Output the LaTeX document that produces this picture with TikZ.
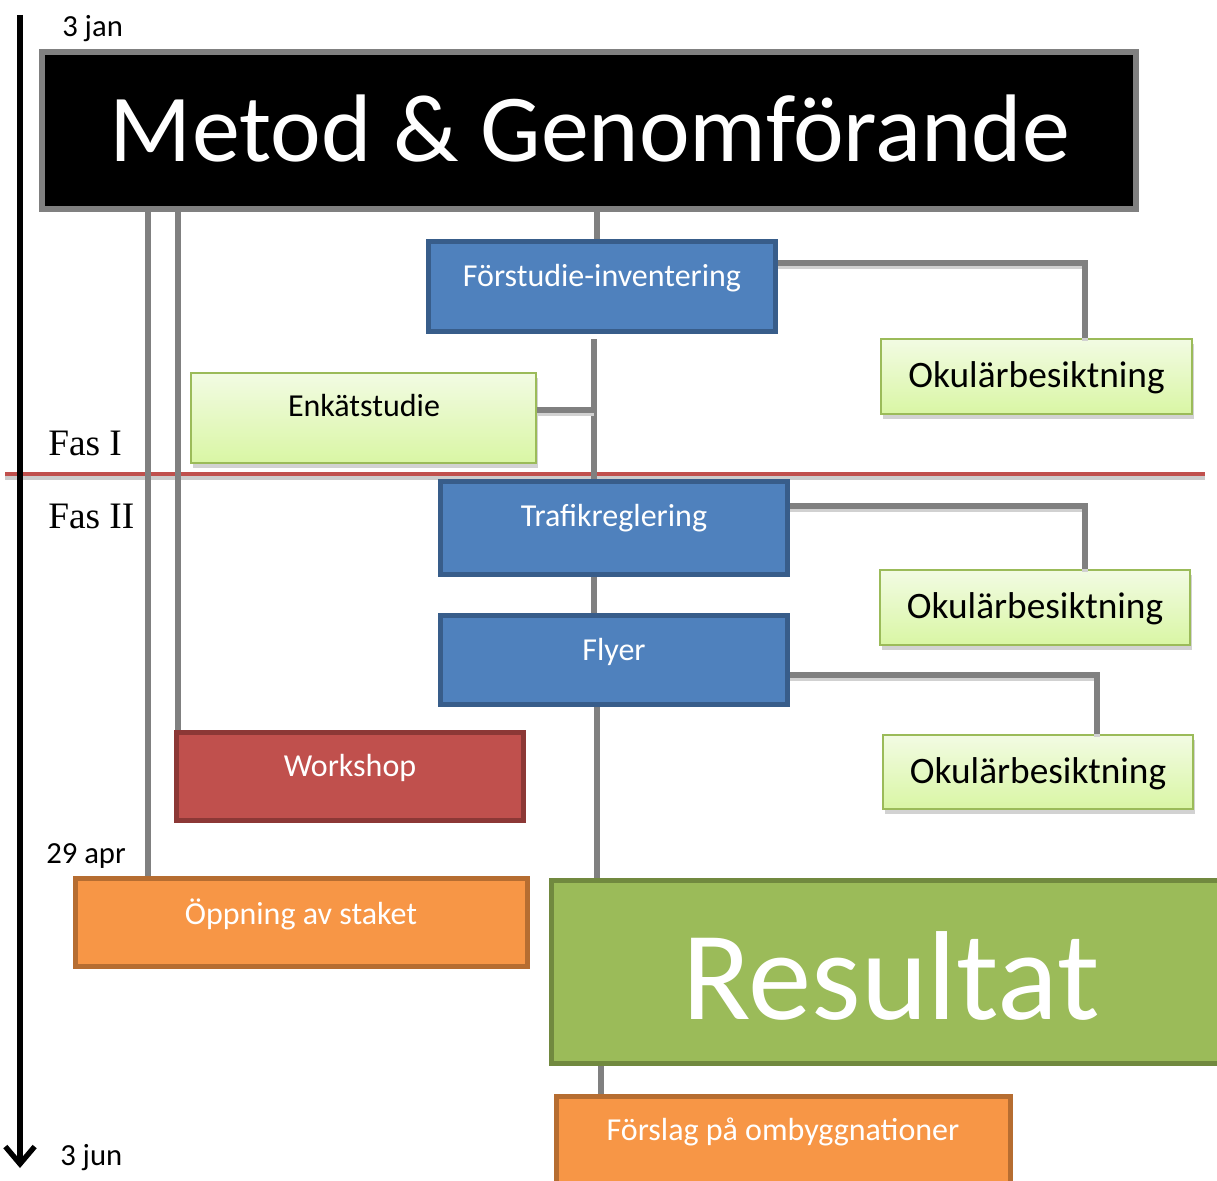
\documentclass[tikz,border=0pt]{standalone}
\usepackage{fontspec}
\setmainfont{Carlito}
\newfontfamily\serifF{Liberation Serif}
\usetikzlibrary{arrows.meta,fit,shadows}
\definecolor{cgray}{HTML}{808080}
\definecolor{cblue}{HTML}{4F81BD}
\definecolor{cblueb}{HTML}{385D8A}
\definecolor{cred}{HTML}{C0504D}
\definecolor{credb}{HTML}{8C3836}
\definecolor{corange}{HTML}{F79646}
\definecolor{corangeb}{HTML}{B66D31}
\definecolor{cgreen}{HTML}{9BBB59}
\definecolor{cgreenb}{HTML}{71893F}
\definecolor{lgtop}{HTML}{F2FBE3}
\definecolor{lgbot}{HTML}{D9F6A4}
\tikzset{
  conn/.style={draw=cgray, line width=3.9pt},
  connsh/.style={conn, preaction={draw=black!18, line width=3.9pt, transform canvas={yshift=-2.6pt}}},
  boxbase/.style={inner sep=0pt, line width=2.3pt},
  bluebox/.style={boxbase, fill=cblue, draw=cblueb},
  redbox/.style={boxbase, fill=cred, draw=credb},
  orangebox/.style={boxbase, fill=corange, draw=corangeb},
  resbox/.style={boxbase, fill=cgreen, draw=cgreenb},
  lightbox/.style={boxbase, line width=1.5pt, draw=cgreen, top color=lgtop, bottom color=lgbot,
     drop shadow={shadow xshift=1.5pt, shadow yshift=-3.5pt, fill=black!25, opacity=0.7}},
  wtxt/.style={text=white, font=\fontsize{24}{28}\selectfont, inner sep=0pt},
  btxt/.style={text=black, font=\fontsize{24}{28}\selectfont, inner sep=0pt},
  oktxt/.style={text=black, font=\fontsize{28}{32}\selectfont, inner sep=0pt},
  datetxt/.style={text=black, font=\fontsize{23}{27}\selectfont, inner sep=0pt},
  fastxt/.style={text=black, font=\serifF\fontsize{28}{32}\selectfont, inner sep=0pt, anchor=west},
}
\begin{document}
\begin{tikzpicture}[x=0.75pt, y=-0.75pt]
\useasboundingbox (0,0) rectangle (1217,1181);
\fill[white] (0,0) rectangle (1217,1181);

% x positions of connector lines
\coordinate (xa) at (148,0);
\coordinate (xb) at (178,0);
\coordinate (xc) at (597,0);
\coordinate (xd) at (594,0);
\coordinate (xe) at (601,0);
\coordinate (xf) at (1085,0);
\coordinate (xg) at (1097,0);

% phase separator
\coordinate (rl) at (5,474);
\coordinate (rr) at (1205,474);
\draw[black!20, line width=3pt] ([yshift=-3pt]rl) -- ([yshift=-3pt]rr);
\draw[cred, line width=3.2pt] (rl) -- (rr);

% timeline
\coordinate (t0) at (20,15);
\coordinate (t1) at (20,1168);
\draw[black, line width=4pt, -{Straight Barb[length=13pt, width=22pt]}] (t0) -- (t1);

% boxes
\node[fit={(43,53) (1135,208)}, boxbase, fill=black, draw=cgray, line width=3pt] (title) {};
\node[bluebox, fit={(429,242) (775,331)}] (fi) {};
\node[bluebox, fit={(441,482) (787,574)}] (tr) {};
\node[bluebox, fit={(441,616) (787,704)}] (fl) {};
\node[redbox, fit={(177,733) (523,820)}] (ws) {};
\node[orangebox, fit={(76,879) (527,966)}] (opp) {};
\node[resbox, fit={(552,881) (1230,1063)}] (res) {};
\node[orangebox, fit={(557,1097) (1010,1195)}] (fs) {};

% connectors
\draw[conn] (title.south -| xa) -- (opp.north -| xa);
\draw[conn] (title.south -| xb) -- (ws.north -| xb);
\draw[conn] (title.south -| xc) -- (fi.north -| xc);
\draw[conn] ([yshift=-5pt]fi.south -| xd) -- (tr.north -| xd);
\draw[conn] (tr.south -| xd) -- (fl.north -| xd);
\draw[conn] (fl.south -| xc) -- (res.north -| xc);
\draw[conn] (res.south -| xe) -- (fs.north -| xe);

% light boxes
\node[lightbox, fit={(191,373) (536,463)}] (enk) {};
\node[lightbox, fit={(881,339) (1192,414)}] (ok1) {};
\node[lightbox, fit={(880,570) (1190,645)}] (ok2) {};
\node[lightbox, fit={(883,735) (1193,809)}] (ok3) {};

\draw[connsh] ([yshift=6pt]enk.east) -- ([yshift=6pt]enk.east -| xd);
\draw[connsh] ([yshift=17.6pt]fi.east) -| (ok1.north -| xf);
\draw[connsh] ([yshift=16.5pt]tr.east) -| (ok2.north -| xf);
\draw[connsh] ([yshift=-11.25pt]fl.east) -| (ok3.north -| xg);

% redraw box borders on top of connector ends
\draw[bluebox, fill=none] (fi.south west) rectangle (fi.north east);
\draw[bluebox, fill=none] (tr.south west) rectangle (tr.north east);
\draw[bluebox, fill=none] (fl.south west) rectangle (fl.north east);
\draw[redbox, fill=none] (ws.south west) rectangle (ws.north east);
\draw[orangebox, fill=none] (opp.south west) rectangle (opp.north east);
\draw[resbox, fill=none] (res.south west) rectangle (res.north east);
\draw[orangebox, fill=none] (fs.south west) rectangle (fs.north east);
\draw[boxbase, draw=cgray, line width=3pt] (title.south west) rectangle (title.north east);

% texts
\node[text=white, font=\fontsize{72}{80}\selectfont, inner sep=0pt] (titletxt) at (590,129) {Metod \& Genomförande};
\node[wtxt] (fitxt) at (602,278) {Förstudie-inventering};
\node[btxt] (enktxt) at (364,406) {Enkätstudie};
\node[oktxt] (ok1txt) at ([yshift=-1pt]ok1.center) {Okulärbesiktning};
\node[oktxt] (ok2txt) at ([yshift=-1pt]ok2.center) {Okulärbesiktning};
\node[oktxt] (ok3txt) at ([yshift=-1pt]ok3.center) {Okulärbesiktning};
\node[wtxt] (trtxt) at (614,518) {Trafikreglering};
\node[wtxt] (fltxt) at (614,652) {Flyer};
\node[wtxt] (wstxt) at (350,768) {Workshop};
\node[wtxt] (opptxt) at (301,914) {Öppning av staket};
\node[text=white, font=\fontsize{95}{100}\selectfont, inner sep=0pt] (restxt) at (891,976) {Resultat};
\node[wtxt] (fstxt) at (783,1132) {Förslag på ombyggnationer};

\node[datetxt, anchor=west] (jan) at (62,29) {3 jan};
\node[datetxt, anchor=west] (apr) at (46,856) {29 apr};
\node[datetxt, anchor=west] (jun) at (60,1158) {3 jun};
\node[fastxt] (fas1) at (48,443) {Fas I};
\node[fastxt] (fas2) at (48,516) {Fas II};
\end{tikzpicture}
\end{document}
